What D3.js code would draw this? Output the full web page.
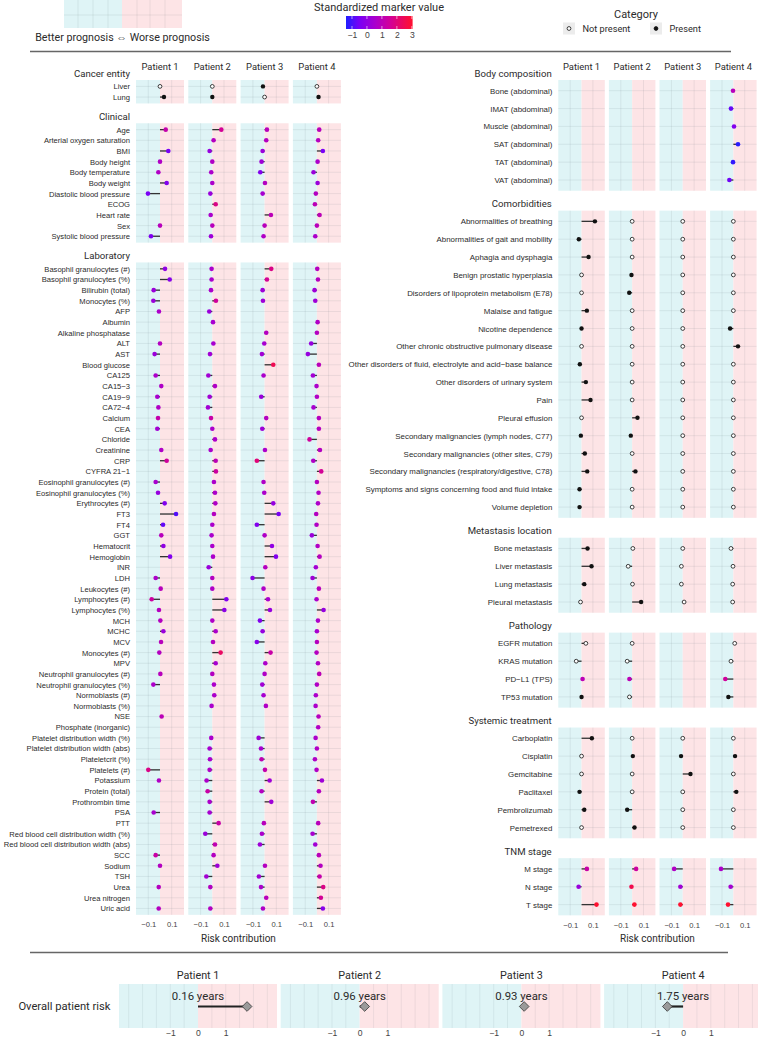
<!DOCTYPE html>
<html>
<head>
<meta charset="utf-8">
<script src="https://cdn.jsdelivr.net/npm/d3@7"></script>
<style>
  body { margin: 0; background: #fff; }
  svg { display: block; font-family: Roboto, "Noto Sans", sans-serif; }
</style>
</head>
<body>
<svg width="758" height="1040"></svg>
<script>
const patients = ["Patient 1", "Patient 2", "Patient 3", "Patient 4"];

// rows x patients, null = no marker
const cancerRows = ["Liver", "Lung"];
const cancerRisk = [[0, 0, -0.014, 0], [0.034, 0, 0, 0.014]];
const cancerPresent = [[0, 0, 1, 0], [1, 1, 0, 1]];

const clinicalRows = ["Age", "Arterial oxygen saturation", "BMI", "Body height", "Body temperature",
  "Body weight", "Diastolic blood pressure", "ECOG", "Heart rate", "Sex", "Systolic blood pressure"];
const clinicalRisk = [
  [0.049, 0.077, 0.02, 0.02], [null, 0.011, 0.014, 0.011], [0.071, -0.023, -0.017, 0.051],
  [0, 0, -0.026, 0.006], [-0.014, -0.009, -0.037, -0.029], [0.057, 0, 0.003, 0.006],
  [-0.103, -0.017, -0.017, -0.009], [null, 0.029, null, -0.017], [null, -0.014, 0.054, 0.023],
  [0, 0, 0, 0], [-0.077, -0.011, -0.009, -0.014]
];
const clinicalMarker = [
  [1.2, 1.6, 0.9, 0.9], [null, 0.8, 0.8, 0.8], [-0.5, 0.1, 0.2, -0.5], [0.7, 0.7, 0.3, 0.6],
  [0.7, 0.6, -0.3, 0.2], [-0.3, 0.6, 0.8, 0.2], [-0.5, 0.2, 0.5, 0.8], [null, 1.8, null, 1.0],
  [null, 0.6, 1.0, 1.0], [0.9, 0.9, 0.9, 0.9], [-0.4, 0.3, 0.7, 0.6]
];

const labRows = ["Basophil granulocytes (#)", "Basophil granulocytes (%)", "Bilirubin (total)", "Monocytes (%)",
  "AFP", "Albumin", "Alkaline phosphatase", "ALT", "AST", "Blood glucose", "CA125", "CA15−3", "CA19−9",
  "CA72−4", "Calcium", "CEA", "Chloride", "Creatinine", "CRP", "CYFRA 21−1", "Eosinophil granulocytes (#)",
  "Eosinophil granulocytes (%)", "Erythrocytes (#)", "FT3", "FT4", "GGT", "Hematocrit", "Hemoglobin", "INR",
  "LDH", "Leukocytes (#)", "Lymphocytes (#)", "Lymphocytes (%)", "MCH", "MCHC", "MCV", "Monocytes (#)", "MPV",
  "Neutrophil granulocytes (#)", "Neutrophil granulocytes (%)", "Normoblasts (#)", "Normoblasts (%)", "NSE",
  "Phosphate (inorganic)", "Platelet distribution width (%)", "Platelet distribution width (abs)",
  "Plateletcrit (%)", "Platelets (#)", "Potassium", "Protein (total)", "Prothrombin time", "PSA", "PTT",
  "Red blood cell distribution width (%)", "Red blood cell distribution width (abs)", "SCC", "Sodium", "TSH",
  "Urea", "Urea nitrogen", "Uric acid"];
const labRisk = [
  [0.043, -0.006, 0.057, 0.003], [0.083, -0.006, 0.02, 0.009], [-0.054, -0.011, -0.017, -0.02],
  [-0.057, 0.031, -0.014, -0.014], [-0.009, -0.026, null, null], [null, 0.006, null, 0.006],
  [null, null, 0.014, 0], [0, 0.009, -0.003, -0.049], [-0.046, -0.02, -0.023, -0.077],
  [null, null, 0.074, 0.017], [-0.037, -0.034, -0.009, -0.034], [0.011, 0.023, null, -0.003],
  [-0.023, -0.023, -0.029, 0], [-0.014, -0.037, null, -0.029], [-0.017, -0.011, 0.014, 0.017],
  [-0.023, 0, -0.02, 0.017], [null, 0.023, null, -0.063], [0.011, -0.014, 0.003, 0.026],
  [0.057, 0.029, -0.066, -0.031], [null, 0.031, null, 0.037], [-0.037, 0.014, -0.009, 0],
  [-0.017, 0.023, -0.003, 0.014], [0.04, 0.026, 0.074, 0.009], [0.137, 0.014, 0.12, -0.006],
  [0.026, 0, -0.066, -0.003], [0.011, -0.006, 0, -0.043], [0.029, 0, 0.063, 0.006],
  [0.086, 0.006, 0.097, 0.023], [null, -0.031, 0.006, -0.009], [-0.037, 0, -0.103, -0.037],
  [0.006, 0, -0.009, 0.017], [-0.071, 0.12, 0.029, -0.003], [-0.009, 0.103, 0.046, 0.057],
  [0.003, 0, -0.04, 0.009], [0.029, 0.029, -0.017, 0], [0.009, 0.006, -0.066, 0],
  [-0.006, 0.071, 0.051, -0.003], [null, 0.029, 0.006, 0.009], [0.003, 0, 0, 0.02],
  [-0.057, 0.014, -0.02, 0], [null, 0.017, -0.009, -0.009], [null, -0.006, 0.011, -0.011],
  [0.014, null, null, 0.014], [null, null, null, 0.011], [null, -0.009, -0.051, -0.011],
  [null, -0.023, -0.031, 0], [null, -0.02, -0.026, -0.017], [-0.1, -0.023, 0.003, -0.003],
  [-0.009, -0.049, 0.043, 0.043], [null, -0.04, -0.026, 0.017], [null, -0.023, 0.057, -0.034],
  [-0.054, -0.023, null, null], [null, 0.054, -0.006, 0.011], [null, -0.06, -0.023, -0.037],
  [null, 0.023, -0.04, -0.014], [-0.037, 0.011, null, 0.017], [0, 0.043, 0.003, 0.031],
  [null, -0.051, -0.049, 0.023], [-0.011, -0.017, -0.031, 0.054], [null, null, 0.014, 0.034],
  [-0.011, -0.017, -0.014, 0.051]
];
const labMarker = [
  [0.0, 0.6, 1.8, 0.8], [-0.2, 0.6, 1.6, 0.8], [0.2, 0.6, 0.3, 0.3], [0.2, 1.5, 0.3, 0.3],
  [0.6, 0.2, null, null], [null, 0.5, null, 0.7], [null, null, 0.8, 0.8], [0.8, 0.5, 0.5, 0.1],
  [0.2, 0.4, 0.4, 0.1], [null, null, 2.5, 0.9], [0.6, 0.4, 0.6, 0.4], [0.7, 0.7, null, 0.6],
  [0.5, 0.4, 0.2, 0.7], [0.7, 0.4, null, 0.5], [1.2, 1.3, 0.8, 0.8], [0.4, 0.6, 0.3, 0.8],
  [null, 0.6, null, 1.5], [0.7, 0.6, 0.6, 0.8], [1.5, 1.0, 2.0, 0.7], [null, 1.4, null, 1.6],
  [0.5, 0.6, 0.7, 0.8], [0.1, 0.6, 0.6, 0.7], [-0.3, 0.7, 0.1, 0.6], [-0.9, 0.8, -0.5, 0.8],
  [-0.7, 0.6, -0.3, 0.7], [0.9, 0.6, 0.7, 0.2], [0.0, 0.6, 0.0, 0.7], [-0.3, 0.6, -0.3, 0.8],
  [null, 0.2, 0.8, 0.4], [0.6, 0.8, -0.1, 0.3], [0.9, 0.7, 0.7, 0.9], [1.4, -0.3, 0.5, 0.6],
  [0.8, -0.1, 0.1, 0.1], [0.8, 0.7, -0.3, 0.6], [0.2, 0.6, 0.1, 0.5], [0.9, 0.8, -0.2, 0.8],
  [0.8, 2.3, 1.3, 0.8], [null, 0.5, 0.6, 0.7], [0.9, 0.8, 0.7, 1.0], [0.6, 0.6, 0.4, 0.7],
  [null, 0.6, 0.5, 0.6], [null, 0.6, 0.7, 0.6], [1.0, null, null, 0.8], [null, null, null, 0.7],
  [null, 0.6, 0.3, 0.6], [null, 0.5, 0.5, 0.7], [null, 0.6, 1.1, 0.7], [1.8, 0.7, 1.2, 0.7],
  [0.7, 0.6, 0.3, 0.3], [null, 1.3, 0.8, 0.8], [null, 0.6, 0.3, 1.1], [0.5, 0.5, null, null],
  [null, 1.3, 0.9, 0.9], [null, 0.2, 0.6, 0.5], [null, 1.1, 0.3, 0.4], [1.3, 0.8, null, 0.9],
  [0.8, 0.3, 0.8, 0.8], [null, 0.4, 0.4, 1.2], [0.8, 0.8, 0.6, 1.8], [null, null, 0.9, 1.6],
  [0.8, 0.8, 0.7, -0.2]
];

const bodyRows = ["Bone (abdominal)", "IMAT (abdominal)", "Muscle (abdominal)", "SAT (abdominal)",
  "TAT (abdominal)", "VAT (abdominal)"];
const bodyRisk = [[null, null, null, -0.003], [null, null, null, -0.021], [null, null, null, 0.006],
  [null, null, null, 0.041], [null, null, null, -0.003], [null, null, null, -0.035]];
const bodyMarker = [[null, null, null, 0.9], [null, null, null, -0.7], [null, null, null, -0.3],
  [null, null, null, -1.3], [null, null, null, -1.2], [null, null, null, -0.6]];

const comorbRows = ["Abnormalities of breathing", "Abnormalities of gait and mobility", "Aphagia and dysphagia",
  "Benign prostatic hyperplasia", "Disorders of lipoprotein metabolism (E78)", "Malaise and fatigue",
  "Nicotine dependence", "Other chronic obstructive pulmonary disease",
  "Other disorders of fluid, electrolyte and acid−base balance", "Other disorders of urinary system", "Pain",
  "Pleural effusion", "Secondary malignancies (lymph nodes, C77)", "Secondary malignancies (other sites, C79)",
  "Secondary malignancies (respiratory/digestive, C78)", "Symptoms and signs concerning food and fluid intake",
  "Volume depletion"];
const comorbRisk = [
  [0.118, 0, 0, 0], [-0.024, 0, 0, 0], [0.062, 0, 0, 0], [0, -0.006, 0, 0], [0, -0.026, 0, 0],
  [0.047, 0, 0, 0], [0, 0, 0, -0.029], [0, 0, 0, 0.041], [-0.015, 0, 0, 0], [0.038, 0, 0, 0],
  [0.079, 0, 0, 0], [0, 0.047, 0, 0], [-0.006, -0.012, 0, 0], [0.029, 0, 0, 0], [0.05, 0.029, 0, 0],
  [-0.018, 0, 0, 0], [-0.018, 0, 0, 0]
];
const comorbPresent = [
  [1, 0, 0, 0], [1, 0, 0, 0], [1, 0, 0, 0], [0, 1, 0, 0], [0, 1, 0, 0], [1, 0, 0, 0], [1, 0, 0, 1],
  [0, 0, 0, 1], [1, 0, 0, 0], [1, 0, 0, 0], [1, 0, 0, 0], [0, 1, 0, 0], [1, 1, 0, 0], [1, 0, 0, 0],
  [1, 1, 0, 0], [1, 0, 0, 0], [1, 0, 0, 0]
];

const metaRows = ["Bone metastasis", "Liver metastasis", "Lung metastasis", "Pleural metastasis"];
const metaRisk = [[0.053, 0.006, 0, -0.021], [0.088, -0.035, -0.012, -0.003], [0.024, 0.003, -0.012, -0.006],
  [-0.009, 0.079, 0.012, -0.006]];
const metaPresent = [[1, 0, 0, 0], [1, 0, 0, 0], [1, 0, 0, 0], [0, 1, 0, 0]];

const pathoRows = ["EGFR mutation", "KRAS mutation", "PD−L1 (TPS)", "TP53 mutation"];
const pathoRisk = [[0.038, 0, null, 0.012], [-0.047, -0.044, null, -0.021], [0.009, -0.024, null, -0.071],
  [0, -0.024, null, -0.044]];
const pathoPresent = [[0, 0, null, 0], [0, 0, null, 0], [null, null, null, null], [1, 0, null, 1]];
const pathoMarker = [[null, null, null, null], [null, null, null, null], [1.0, 1.0, null, 1.5],
  [null, null, null, null]];

const treatRows = ["Carboplatin", "Cisplatin", "Gemcitabine", "Paclitaxel", "Pembrolizumab", "Pemetrexed"];
const treatRisk = [[0.091, 0, 0, 0], [0, 0.006, -0.015, 0.015], [0, 0, 0.068, 0], [-0.018, 0, 0, 0.026],
  [0.024, -0.044, 0, 0], [0, 0.021, 0, 0]];
const treatPresent = [[1, 0, 0, 0], [0, 1, 1, 1], [0, 0, 1, 0], [1, 0, 0, 1], [1, 1, 0, 0], [0, 1, 0, 0]];

const tnmRows = ["M stage", "N stage", "T stage"];
const tnmRisk = [[0.047, 0.035, -0.076, -0.109], [-0.026, -0.006, -0.021, -0.024], [0.132, 0.02, -0.021, -0.047]];
const tnmMarker = [[1.3, 1.4, 0.7, 0.6], [0.2, 2.6, 0.4, 0.5], [3, 3, 3, 3]];

const overallRisk = [1.77, 0.18, 0.1, -0.57];
const overallLabels = ["0.16 years", "0.96 years", "0.93 years", "1.75 years"];

const riskTicks = [-0.1, 0.1];
const overallTicks = [-1, 0, 1];
const markerTicks = [-1, 0, 1, 2, 3];

const leftSections = [
  { title: "Cancer entity", rows: cancerRows, risk: cancerRisk, present: cancerPresent },
  { title: "Clinical", rows: clinicalRows, risk: clinicalRisk, marker: clinicalMarker },
  { title: "Laboratory", rows: labRows, risk: labRisk, marker: labMarker }
];
const rightSections = [
  { title: "Body composition", rows: bodyRows, risk: bodyRisk, marker: bodyMarker },
  { title: "Comorbidities", rows: comorbRows, risk: comorbRisk, present: comorbPresent },
  { title: "Metastasis location", rows: metaRows, risk: metaRisk, present: metaPresent },
  { title: "Pathology", rows: pathoRows, risk: pathoRisk, present: pathoPresent, marker: pathoMarker },
  { title: "Systemic treatment", rows: treatRows, risk: treatRisk, present: treatPresent },
  { title: "TNM stage", rows: tnmRows, risk: tnmRisk, marker: tnmMarker }
];

const CYAN = "#dff4f6", PINK = "#fde4e6", GRID = "rgba(90,110,120,0.16)", TXT = "#2b2b2b";

const color = d3.scaleLinear()
  .domain([-1.4, -0.5, 0.5, 1.5, 3])
  .range(["#1f1fff", "#7a00f5", "#a800d0", "#d0009c", "#ff1030"])
  .clamp(true);

const svg = d3.select("svg");

function drawSide(side) {
  let top = side.top;
  const xs = patients.map((p, i) => {
    const a = side.x0 + i * side.step;
    return d3.scaleLinear().domain([-0.205, 0.205]).range([a, a + side.w]);
  });

  // patient headers
  xs.forEach((x, i) => {
    svg.append("text")
      .attr("x", x(0)).attr("y", 66)
      .attr("text-anchor", "middle").attr("dominant-baseline", "central")
      .attr("font-size", 9.4).attr("fill", TXT)
      .text(patients[i]);
  });

  side.sections.forEach(sec => {
    const h = (sec.rows.length + 0.2) * side.rowStep;
    const y = d3.scalePoint().domain(sec.rows).range([top, top + h]).padding(0.6);

    svg.append("text")
      .attr("x", side.labelX).attr("y", top - 7)
      .attr("text-anchor", "end").attr("dominant-baseline", "central")
      .attr("font-size", 9.6).attr("fill", TXT)
      .text(sec.title);

    const yAxis = svg.append("g")
      .attr("transform", `translate(${xs[0].range()[0]},0)`)
      .call(d3.axisLeft(y).tickSize(0).tickPadding(6));
    yAxis.select(".domain").remove();
    yAxis.selectAll("text").attr("font-size", side.labelSize).attr("fill", TXT).attr("font-family", null);

    xs.forEach((x, i) => {
      const g = svg.append("g");
      g.append("rect").attr("x", x.range()[0]).attr("y", top)
        .attr("width", x(0) - x.range()[0]).attr("height", h).attr("fill", CYAN);
      g.append("rect").attr("x", x(0)).attr("y", top)
        .attr("width", x.range()[1] - x(0)).attr("height", h).attr("fill", PINK);
      g.selectAll("line.v").data([-0.1, 0.1]).join("line")
        .attr("x1", d => x(d)).attr("x2", d => x(d))
        .attr("y1", top).attr("y2", top + h)
        .attr("stroke", GRID).attr("stroke-width", 0.7);
      g.selectAll("line.h").data(sec.rows).join("line")
        .attr("x1", x.range()[0]).attr("x2", x.range()[1])
        .attr("y1", d => y(d)).attr("y2", d => y(d))
        .attr("stroke", GRID).attr("stroke-width", 0.7);

      sec.rows.forEach((r, j) => {
        const v = sec.risk[j][i];
        if (v == null) return;
        g.append("line")
          .attr("x1", x(0)).attr("x2", x(v)).attr("y1", y(r)).attr("y2", y(r))
          .attr("stroke", "#333").attr("stroke-width", 1.3);
        const m = sec.marker ? sec.marker[j][i] : null;
        const pr = sec.present ? sec.present[j][i] : null;
        const c = g.append("circle").attr("cx", x(v)).attr("cy", y(r));
        if (m != null) {
          c.attr("r", 2.3).attr("fill", color(m));
        } else if (pr === 1) {
          c.attr("r", 2.2).attr("fill", "#111");
        } else {
          c.attr("r", 1.9).attr("fill", "#fff").attr("stroke", "#111").attr("stroke-width", 0.8);
        }
      });
    });
    top += h + side.gap;
  });

  const bottom = top - side.gap;
  xs.forEach(x => {
    const ax = svg.append("g")
      .attr("transform", `translate(0,${bottom + 4})`)
      .call(d3.axisBottom(x).tickValues(riskTicks).tickSize(0).tickFormat(d3.format(".1f")));
    ax.select(".domain").remove();
    ax.selectAll("text").attr("font-size", 7.6).attr("fill", "#444").attr("font-family", null);
  });
  svg.append("text")
    .attr("x", (xs[0].range()[0] + xs[3].range()[1]) / 2).attr("y", 938)
    .attr("text-anchor", "middle").attr("dominant-baseline", "central")
    .attr("font-size", 10).attr("fill", TXT)
    .text("Risk contribution");
}

drawSide({ sections: leftSections, x0: 136, step: 52.3, w: 48, rowStep: 10.66, top: 80, gap: 19.8,
  labelX: 130, labelSize: 7.6 });
drawSide({ sections: rightSections, x0: 558.3, step: 50.6, w: 46.5, rowStep: 17.86, top: 80, gap: 19.9,
  labelX: 551.7, labelSize: 7.9 });

// separators
svg.append("line").attr("x1", 30).attr("x2", 731).attr("y1", 51.5).attr("y2", 51.5)
  .attr("stroke", "#666").attr("stroke-width", 1.5);
svg.append("line").attr("x1", 30).attr("x2", 728).attr("y1", 952.5).attr("y2", 952.5)
  .attr("stroke", "#666").attr("stroke-width", 1.5);

// prognosis legend
const lg = svg.append("g");
lg.append("rect").attr("x", 64).attr("y", 0).attr("width", 58).attr("height", 28).attr("fill", CYAN);
lg.append("rect").attr("x", 122).attr("y", 0).attr("width", 60).attr("height", 28).attr("fill", PINK);
lg.selectAll("line.v").data([78, 93, 108, 137, 150, 165]).join("line")
  .attr("x1", d => d).attr("x2", d => d).attr("y1", 0).attr("y2", 28)
  .attr("stroke", GRID).attr("stroke-width", 0.7);
lg.append("line").attr("x1", 64).attr("x2", 182).attr("y1", 15).attr("y2", 15)
  .attr("stroke", GRID).attr("stroke-width", 0.7);
lg.append("text").attr("x", 122.5).attr("y", 37.5)
  .attr("text-anchor", "middle").attr("dominant-baseline", "central")
  .attr("font-size", 10.7).attr("fill", TXT)
  .text("Better prognosis ⇔ Worse prognosis");

// colour bar legend
const defs = svg.append("defs");
const cbScale = d3.scaleLinear().domain([-1.4, 3.05]).range([346, 412.6]);
const grad = defs.append("linearGradient").attr("id", "cb");
d3.range(0, 1.0001, 0.05).forEach(t => {
  grad.append("stop").attr("offset", t)
    .attr("stop-color", color(cbScale.domain()[0] + t * (cbScale.domain()[1] - cbScale.domain()[0])));
});
svg.append("text").attr("x", 379).attr("y", 7.5)
  .attr("text-anchor", "middle").attr("dominant-baseline", "central")
  .attr("font-size", 11).attr("fill", TXT).text("Standardized marker value");
svg.append("rect").attr("x", 346).attr("y", 16).attr("width", 66.6).attr("height", 13).attr("fill", "url(#cb)");
svg.selectAll("line.cbt").data(markerTicks).join("line")
  .attr("x1", d => cbScale(d)).attr("x2", d => cbScale(d))
  .attr("y1", 16).attr("y2", 19).attr("stroke", "#fff").attr("stroke-width", 0.6);
svg.selectAll("line.cbb").data(markerTicks).join("line")
  .attr("x1", d => cbScale(d)).attr("x2", d => cbScale(d))
  .attr("y1", 26).attr("y2", 29).attr("stroke", "#fff").attr("stroke-width", 0.6);
const cbAxis = svg.append("g").attr("transform", "translate(0,30)")
  .call(d3.axisBottom(cbScale).tickValues(markerTicks).tickSize(0).tickPadding(2).tickFormat(d3.format("d")));
cbAxis.select(".domain").remove();
cbAxis.selectAll("text").attr("font-size", 8.6).attr("fill", "#444").attr("font-family", null);

// category legend
svg.append("text").attr("x", 636).attr("y", 14)
  .attr("text-anchor", "middle").attr("dominant-baseline", "central")
  .attr("font-size", 11).attr("fill", TXT).text("Category");
const catKeys = [{ label: "Not present", x: 569, filled: false }, { label: "Present", x: 656, filled: true }];
catKeys.forEach(k => {
  svg.append("rect").attr("x", k.x - 6).attr("y", 22.5).attr("width", 12).attr("height", 12).attr("fill", "#ececec");
  svg.append("circle").attr("cx", k.x).attr("cy", 28.5).attr("r", 1.9)
    .attr("fill", k.filled ? "#111" : "#fff").attr("stroke", "#111").attr("stroke-width", 0.8);
  svg.append("text").attr("x", k.x + 13.5).attr("y", 28.7).attr("dominant-baseline", "central")
    .attr("font-size", 9.2).attr("fill", TXT).text(k.label);
});

// overall patient risk
const oTop = 984, oH = 44;
svg.append("text").attr("x", 110.5).attr("y", 1006.5)
  .attr("text-anchor", "end").attr("dominant-baseline", "central")
  .attr("font-size", 11.2).attr("fill", TXT).text("Overall patient risk");
overallRisk.forEach((v, i) => {
  const a = 119 + i * 161.7;
  const x = d3.scaleLinear().domain([-2.85, 2.85]).range([a, a + 158]);
  const g = svg.append("g");
  g.append("rect").attr("x", a).attr("y", oTop).attr("width", x(0) - a).attr("height", oH).attr("fill", CYAN);
  g.append("rect").attr("x", x(0)).attr("y", oTop).attr("width", a + 158 - x(0)).attr("height", oH).attr("fill", PINK);
  g.selectAll("line.v").data(d3.range(-2.5, 2.51, 0.5).filter(d => d !== 0)).join("line")
    .attr("x1", d => x(d)).attr("x2", d => x(d)).attr("y1", oTop).attr("y2", oTop + oH)
    .attr("stroke", GRID).attr("stroke-width", 0.6);
  g.append("text").attr("x", x(0)).attr("y", 975.7)
    .attr("text-anchor", "middle").attr("dominant-baseline", "central")
    .attr("font-size", 10.8).attr("fill", TXT).text(patients[i]);
  g.append("text").attr("x", x(0)).attr("y", 995.8)
    .attr("text-anchor", "middle").attr("dominant-baseline", "central")
    .attr("font-size", 11.4).attr("fill", TXT).text(overallLabels[i]);
  g.append("line").attr("x1", x(0)).attr("x2", x(v)).attr("y1", 1006.5).attr("y2", 1006.5)
    .attr("stroke", "#222").attr("stroke-width", 2.2);
  g.append("path")
    .attr("d", d3.symbol(d3.symbolDiamond2, 60)())
    .attr("transform", `translate(${x(v)},1006.5)`)
    .attr("fill", "#9a9a9a").attr("stroke", "#333").attr("stroke-width", 0.8);
  const ax = g.append("g").attr("transform", `translate(0,${oTop + oH})`)
    .call(d3.axisBottom(x).tickValues(overallTicks).tickSize(0).tickPadding(2).tickFormat(d3.format("d")));
  ax.select(".domain").remove();
  ax.selectAll("text").attr("font-size", 8.6).attr("fill", "#444").attr("font-family", null);
});
</script>
</body>
</html>
